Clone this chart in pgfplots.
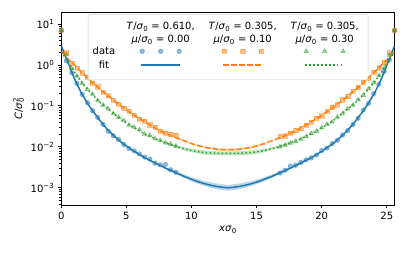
\documentclass[border=0pt]{standalone}
\usepackage{fontspec}
\setmainfont{DejaVu Sans}
\usepackage{pgfplots}
\pgfplotsset{compat=1.18}
\definecolor{C0}{RGB}{31,119,180}
\definecolor{C1}{RGB}{255,127,14}
\definecolor{C2}{RGB}{44,160,44}
\newcommand\hdA{\textit{T}/\textit{σ}\textsubscript{0} = 0.610,\\\textit{μ}/\textit{σ}\textsubscript{0} = 0.00}
\newcommand\hdB{\textit{T}/\textit{σ}\textsubscript{0} = 0.305,\\\textit{μ}/\textit{σ}\textsubscript{0} = 0.10}
\newcommand\hdC{\textit{T}/\textit{σ}\textsubscript{0} = 0.305,\\\textit{μ}/\textit{σ}\textsubscript{0} = 0.30}
\pgfplotsset{
  mkA/.style={mark=*, mark size=2.3pt, mark options={draw=C0, fill=C0, opacity=0.5, line width=0.5pt}},
  mkB/.style={mark=square*, mark size=2.1pt, mark options={draw=C1, fill=C1, opacity=0.5, line width=0.5pt}},
  mkC/.style={mark=triangle*, mark size=2.6pt, mark options={draw=C2, fill=C2, opacity=0.5, line width=0.5pt}},
  lnA/.style={C0, line width=1.5pt},
  lnB/.style={C1, line width=1.5pt, dash pattern=on 5.55pt off 2.4pt},
  lnC/.style={C2, line width=1.5pt, dash pattern=on 1.5pt off 2.475pt},
  hdimg/.style={legend image code/.code={\node[inner sep=0pt, align=center, font=\fontsize{10}{12.6}\selectfont] at (0pt,0pt) {#1}; \path[draw=none] (-37pt,0pt) -- (37pt,0pt);}},
  mkimg/.style={legend image code/.code={\path[draw=none, /pgfplots/#1] plot coordinates {(-18.5pt,0pt) (0pt,0pt) (18.5pt,0pt)}; \path[draw=none] (-37pt,0pt) -- (37pt,0pt);}},
  lnimg/.style={legend image code/.code={\path[draw=none] (-37pt,0pt) -- (37pt,0pt); \draw[/pgfplots/#1] (-19.5pt,0pt) -- (19.5pt,0pt);}},
}
\begin{document}
\begin{tikzpicture}
\begin{axis}[
  width=333.3pt, height=192.7pt, scale only axis,
  xmin=0, xmax=25.6, ymode=log, log basis y=10, ymin=3.8e-4, ymax=19.3,
  xtick={0,5,10,15,20,25},
  ytick={1e-3,1e-2,1e-1,1,10},
  yticklabels={10\textsuperscript{−3},10\textsuperscript{−2},10\textsuperscript{−1},10\textsuperscript{0},10\textsuperscript{1}},
  minor ytick={4e-4,5e-4,6e-4,7e-4,8e-4,9e-4,2e-3,3e-3,4e-3,5e-3,6e-3,7e-3,8e-3,9e-3,2e-2,3e-2,4e-2,5e-2,6e-2,7e-2,8e-2,9e-2,0.2,0.3,0.4,0.5,0.6,0.7,0.8,0.9,2,3,4,5,6,7,8,9},
  tick align=outside, tick pos=left,
  major tick length=3.5pt, minor tick length=2pt,
  major tick style={black, line width=0.8pt},
  minor tick style={black, line width=0.6pt},
  axis line style={line width=0.8pt},
  /pgf/number format/assume math mode=true,
  tick label style={font=\fontsize{10}{12}\selectfont},
  label style={font=\fontsize{10}{12}\selectfont},
  xlabel={\textit{x}\textit{σ}\textsubscript{0}},
  ylabel={\textit{C}/\textit{σ}\rlap{\textsuperscript{2}}\textsubscript{0}},
  legend columns=4,
  legend style={at={(axis description cs:0.080,0.99)}, anchor=north west,
    draw=black!20, rounded corners=2pt, fill=white, fill opacity=0.8, draw opacity=1, text opacity=1,
    inner xsep=2.5pt, inner ysep=8pt, font=\fontsize{10}{12}\selectfont,
    /tikz/row sep=0.8pt,
    /tikz/column 2/.style={column sep=6.5pt},
    /tikz/column 4/.style={column sep=4pt},
    /tikz/column 6/.style={column sep=4pt},
    nodes={inner sep=2pt, text depth=0.15em}},
]
% legend
\addlegendimage{empty legend}\addlegendentry{}
\addlegendimage{hdimg={\hdA}}\addlegendentry{}
\addlegendimage{hdimg={\hdB}}\addlegendentry{}
\addlegendimage{hdimg={\hdC}}\addlegendentry{}
\addlegendimage{empty legend}\addlegendentry{data}
\addlegendimage{mkimg=mkA}\addlegendentry{}
\addlegendimage{mkimg=mkB}\addlegendentry{}
\addlegendimage{mkimg=mkC}\addlegendentry{}
\addlegendimage{empty legend}\addlegendentry{fit}
\addlegendimage{lnimg=lnA}\addlegendentry{}
\addlegendimage{lnimg=lnB}\addlegendentry{}
\addlegendimage{lnimg=lnC}\addlegendentry{}

% bands
\addplot[forget plot, draw=none, fill=C0, fill opacity=0.3] coordinates {
(7,0.00447) (8,0.00316) (9,0.00237) (10,0.00182) (11,0.00145) (12,0.00126) (12.8,0.001175) (13.6,0.00126) (14.6,0.00145) (15.6,0.00182) (16.6,0.00237) (17.6,0.00316) (18.6,0.00447)
(18.6,0.00427) (17.6,0.00288) (16.6,0.00202) (15.6,0.00144) (14.6,0.00110) (13.6,0.000911) (12.8,0.000851) (12,0.000911) (11,0.00110) (10,0.00144) (9,0.00202) (8,0.00288) (7,0.00427)} -- cycle;
\addplot[forget plot, draw=none, fill=C1, fill opacity=0.3] coordinates {
(9,0.0162) (10,0.0124) (11,0.0103) (12,0.00933) (12.8,0.00912) (13.6,0.00933) (14.6,0.0103) (15.6,0.0124) (16.6,0.0162)
(16.6,0.0154) (15.6,0.0116) (14.6,0.00923) (13.6,0.00813) (12.8,0.00794) (12,0.00813) (11,0.00923) (10,0.0116) (9,0.0154)} -- cycle;
\addplot[forget plot, draw=none, fill=C2, fill opacity=0.3] coordinates {
(8,0.0132) (9,0.0105) (10,0.00891) (11,0.00813) (12,0.00776) (12.8,0.00776) (13.6,0.00776) (14.6,0.00813) (15.6,0.00891) (16.6,0.0105) (17.6,0.0132)
(17.6,0.0120) (16.6,0.00912) (15.6,0.00741) (14.6,0.00646) (13.6,0.00617) (12.8,0.00617) (12,0.00617) (11,0.00646) (10,0.00741) (9,0.00912) (8,0.0120)} -- cycle;

% data
\addplot[forget plot, only marks, C0, mkA] coordinates {
(0,7.0) (0.4,1.26) (0.8,0.646) (1.2,0.355) (1.6,0.191) (2.0,0.120) (2.4,0.0759) (2.8,0.0525) (3.2,0.0355) (3.6,0.0240) (4.0,0.0186) (4.4,0.0151) (4.8,0.01148) (5.2,0.00912) (5.6,0.00794) (6.0,0.00676) (6.4,0.00562) (6.8,0.00501) (7.2,0.00398) (7.6,0.00363) (8.0,0.00372) (8.4,0.00275) (8.8,0.00240)
(16.8,0.00229) (17.2,0.00269) (17.6,0.00339) (18.0,0.00355) (18.4,0.00417) (18.8,0.00479) (19.2,0.00537) (19.6,0.00631) (20.0,0.00813) (20.4,0.00933) (20.8,0.0120) (21.2,0.0145) (21.6,0.0195) (22.0,0.0251) (22.4,0.0347) (22.8,0.0501) (23.2,0.0794) (23.6,0.115) (24.0,0.200) (24.4,0.339) (24.8,0.692) (25.2,1.32) (25.6,7.0)};
\addplot[forget plot, only marks, C1, mkB] coordinates {
(0,7.0) (0.4,2.0) (0.8,1.12) (1.2,0.832) (1.6,0.646) (2.0,0.501) (2.4,0.363) (2.8,0.295) (3.2,0.219) (3.6,0.178) (4.0,0.138) (4.4,0.112) (4.8,0.0871) (5.2,0.0741) (5.6,0.0603) (6.0,0.0479) (6.4,0.0427) (6.8,0.0347) (7.2,0.0302) (7.6,0.0240) (8.0,0.0219) (8.4,0.0200) (8.8,0.0191)
(16.8,0.0178) (17.2,0.0186) (17.6,0.0214) (18.0,0.0251) (18.4,0.0282) (18.8,0.0339) (19.2,0.0398) (19.6,0.0501) (20.0,0.0575) (20.4,0.0741) (20.8,0.0912) (21.2,0.107) (21.6,0.141) (22.0,0.170) (22.4,0.229) (22.8,0.282) (23.2,0.380) (23.6,0.479) (24.0,0.661) (24.4,0.851) (24.8,1.15) (25.2,2.0) (25.6,7.0)};
\addplot[forget plot, only marks, C2, mkC] coordinates {
(0,7.0) (0.4,1.78) (0.8,0.832) (1.2,0.537) (1.6,0.355) (2.0,0.251) (2.4,0.195) (2.8,0.135) (3.2,0.105) (3.6,0.0851) (4.0,0.0646) (4.4,0.0537) (4.8,0.0437) (5.2,0.0339) (5.6,0.0302) (6.0,0.0263) (6.4,0.0204) (6.8,0.0191) (7.2,0.0158) (7.6,0.0145) (8.0,0.0126) (8.4,0.0117) (8.8,0.0105)
(16.8,0.0100) (17.2,0.0110) (17.6,0.0123) (18.0,0.0135) (18.4,0.0155) (18.8,0.0178) (19.2,0.0214) (19.6,0.0240) (20.0,0.0295) (20.4,0.0355) (20.8,0.0407) (21.2,0.0537) (21.6,0.0646) (22.0,0.0851) (22.4,0.105) (22.8,0.141) (23.2,0.182) (23.6,0.263) (24.0,0.372) (24.4,0.550) (24.8,0.851) (25.2,1.74) (25.6,7.0)};

% fits
\addplot[forget plot, lnA] coordinates {
(0,2.95) (0.25,1.86) (0.5,1.175) (0.75,0.741) (1,0.468) (1.5,0.219) (2,0.1175) (2.5,0.0692) (3,0.0427) (3.5,0.0275) (4,0.0191) (4.5,0.0138) (5,0.01047) (5.5,0.00813) (6,0.00646) (6.5,0.00525) (7,0.00437) (7.5,0.00363) (8,0.00302) (8.5,0.00257) (9,0.00219) (9.5,0.00186) (10,0.00162) (10.5,0.00141) (11,0.00126) (11.5,0.00115) (12,0.00107) (12.5,0.00102) (12.8,0.00100)
(13.1,0.00102) (13.6,0.00107) (14.1,0.00115) (14.6,0.00126) (15.1,0.00141) (15.6,0.00162) (16.1,0.00186) (16.6,0.00219) (17.1,0.00257) (17.6,0.00302) (18.1,0.00363) (18.6,0.00437) (19.1,0.00525) (19.6,0.00646) (20.1,0.00813) (20.6,0.01047) (21.1,0.0138) (21.6,0.0191) (22.1,0.0275) (22.6,0.0427) (23.1,0.0692) (23.6,0.1175) (24.1,0.219) (24.6,0.468) (24.85,0.741) (25.1,1.175) (25.35,1.86) (25.6,2.95)};
\addplot[forget plot, lnB] coordinates {
(0,2.09) (0.25,1.74) (0.5,1.41) (1,1.0) (1.5,0.692) (2,0.490) (2.5,0.347) (3,0.251) (3.5,0.186) (4,0.138) (4.5,0.105) (5,0.0794) (5.5,0.0617) (6,0.0490) (6.5,0.0389) (7,0.0316) (7.5,0.0257) (8,0.0214) (8.5,0.0182) (9,0.0158) (9.5,0.0138) (10,0.0120) (10.5,0.0107) (11,0.00977) (11.5,0.00912) (12,0.00871) (12.5,0.00851) (12.8,0.00851)
(13.1,0.00851) (13.6,0.00871) (14.1,0.00912) (14.6,0.00977) (15.1,0.0107) (15.6,0.0120) (16.1,0.0138) (16.6,0.0158) (17.1,0.0182) (17.6,0.0214) (18.1,0.0257) (18.6,0.0316) (19.1,0.0389) (19.6,0.0490) (20.1,0.0617) (20.6,0.0794) (21.1,0.105) (21.6,0.138) (22.1,0.186) (22.6,0.251) (23.1,0.347) (23.6,0.490) (24.1,0.692) (24.6,1.0) (25.1,1.41) (25.35,1.74) (25.6,2.09)};
\addplot[forget plot, lnC] coordinates {
(0,2.09) (0.25,1.585) (0.5,1.20) (1,0.676) (1.5,0.398) (2,0.257) (2.5,0.174) (3,0.120) (3.5,0.0891) (4,0.0661) (4.5,0.0490) (5,0.0380) (5.5,0.0302) (6,0.0245) (6.5,0.0200) (7,0.0170) (7.5,0.0145) (8,0.0126) (8.5,0.0110) (9,0.00977) (9.5,0.00891) (10,0.00813) (10.5,0.00759) (11,0.00724) (11.5,0.00708) (12,0.00692) (12.5,0.00692) (12.8,0.00692)
(13.1,0.00692) (13.6,0.00692) (14.1,0.00708) (14.6,0.00724) (15.1,0.00759) (15.6,0.00813) (16.1,0.00891) (16.6,0.00977) (17.1,0.0110) (17.6,0.0126) (18.1,0.0145) (18.6,0.0170) (19.1,0.0200) (19.6,0.0245) (20.1,0.0302) (20.6,0.0380) (21.1,0.0490) (21.6,0.0661) (22.1,0.0891) (22.6,0.120) (23.1,0.174) (23.6,0.257) (24.1,0.398) (24.6,0.676) (25.1,1.20) (25.35,1.585) (25.6,2.09)};
\end{axis}
\path ([shift={(-61.3pt,-47pt)}]current axis.south west) rectangle ([shift={(12.4pt,12.3pt)}]current axis.north east);
\end{tikzpicture}
\end{document}
